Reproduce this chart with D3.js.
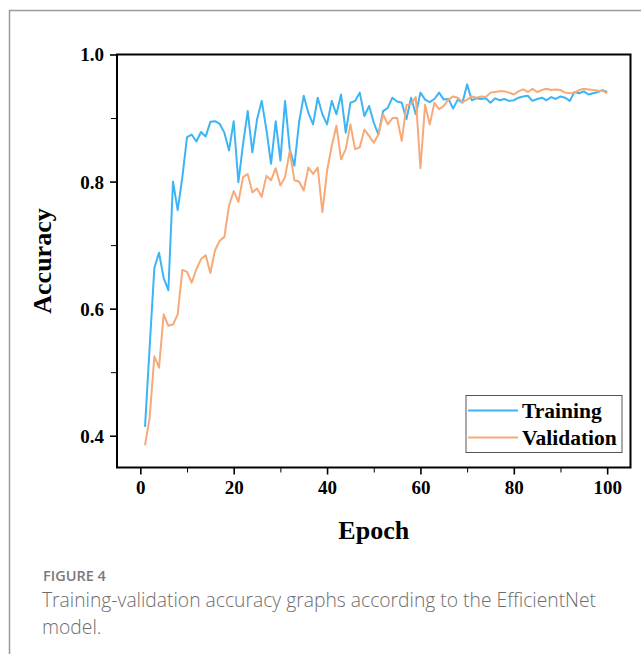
<!DOCTYPE html>
<html>
<head>
<meta charset="utf-8">
<script src="https://cdn.jsdelivr.net/npm/d3@7"></script>
<style>
  body { margin: 0; background: #fff; }
  svg { display: block; }
</style>
</head>
<body>
<script>
// accuracy per epoch
var epochs = d3.range(1, 101);
var training = [
  0.414, 0.540, 0.664, 0.688, 0.648, 0.629, 0.800, 0.755, 0.807, 0.870,
  0.874, 0.863, 0.878, 0.871, 0.894, 0.895, 0.891, 0.877, 0.849, 0.895,
  0.799, 0.859, 0.911, 0.846, 0.898, 0.927, 0.882, 0.828, 0.895, 0.833,
  0.927, 0.851, 0.825, 0.893, 0.935, 0.908, 0.890, 0.932, 0.906, 0.890,
  0.927, 0.906, 0.937, 0.877, 0.924, 0.927, 0.940, 0.903, 0.919, 0.893,
  0.874, 0.911, 0.916, 0.932, 0.926, 0.924, 0.898, 0.932, 0.906, 0.940,
  0.929, 0.925, 0.930, 0.940, 0.929, 0.930, 0.915, 0.929, 0.924, 0.953,
  0.928, 0.931, 0.930, 0.931, 0.924, 0.931, 0.928, 0.930, 0.927, 0.928,
  0.932, 0.934, 0.935, 0.927, 0.930, 0.932, 0.928, 0.933, 0.930, 0.934,
  0.932, 0.927, 0.941, 0.939, 0.942, 0.937, 0.939, 0.941, 0.944, 0.941
];
var validation = [
  0.385, 0.429, 0.525, 0.507, 0.591, 0.573, 0.575, 0.591, 0.661, 0.658,
  0.641, 0.662, 0.678, 0.684, 0.656, 0.692, 0.707, 0.713, 0.762, 0.785,
  0.768, 0.807, 0.812, 0.783, 0.789, 0.776, 0.809, 0.802, 0.821, 0.794,
  0.807, 0.848, 0.802, 0.800, 0.786, 0.822, 0.812, 0.822, 0.752, 0.817,
  0.856, 0.888, 0.835, 0.851, 0.890, 0.851, 0.854, 0.882, 0.872, 0.861,
  0.874, 0.906, 0.890, 0.900, 0.900, 0.864, 0.920, 0.922, 0.933, 0.821,
  0.921, 0.890, 0.924, 0.914, 0.919, 0.929, 0.934, 0.932, 0.925, 0.929,
  0.934, 0.932, 0.934, 0.933, 0.940, 0.941, 0.942, 0.942, 0.940, 0.937,
  0.942, 0.945, 0.941, 0.946, 0.941, 0.944, 0.946, 0.944, 0.945, 0.944,
  0.940, 0.939, 0.940, 0.944, 0.946, 0.945, 0.944, 0.943, 0.943, 0.939
];
var xMajor = [0, 20, 40, 60, 80, 100];
var xMinor = [10, 30, 50, 70, 90];
var yMajor = [0.4, 0.6, 0.8, 1.0];
var yMinor = [0.5, 0.7, 0.9];
var seriesNames = ["Training", "Validation"];
var seriesColors = ["#3db4f4", "#f7aa78"];

var svgWidth = 641, svgHeight = 654;
var margin = { top: 54.5, right: 10.5, bottom: 186.5, left: 117 };
var chartWidth = svgWidth - margin.left - margin.right;
var chartHeight = svgHeight - margin.top - margin.bottom;

var svg = d3.select("body").append("svg")
    .attr("width", svgWidth)
    .attr("height", svgHeight);

// page frame (top and left rule)
svg.append("path")
    .attr("d", "M9.5,654V10.5H641")
    .attr("fill", "none")
    .attr("stroke", "#9a9a9a")
    .attr("stroke-width", 1.5);

var chartGroup = svg.append("g")
    .attr("transform", `translate(${margin.left}, ${margin.top})`);

var xScale = d3.scaleLinear().domain([-5, 105]).range([0, chartWidth]);
var yScale = d3.scaleLinear().domain([0.35, 1.0]).range([chartHeight, 0]);

var tickFont = "'Liberation Serif', 'Times New Roman', serif";

// minor ticks
chartGroup.append("g")
    .attr("transform", `translate(0, ${chartHeight})`)
    .call(d3.axisBottom(xScale).tickValues(xMinor).tickSize(5).tickSizeOuter(0).tickFormat(""))
    .call(g => g.select(".domain").remove());
chartGroup.append("g")
    .call(d3.axisLeft(yScale).tickValues(yMinor).tickSize(6).tickSizeOuter(0).tickFormat(""))
    .call(g => g.select(".domain").remove());

// major ticks with labels
var xAxisG = chartGroup.append("g")
    .attr("transform", `translate(0, ${chartHeight})`)
    .call(d3.axisBottom(xScale).tickValues(xMajor).tickSize(7).tickSizeOuter(0).tickPadding(6).tickFormat(d3.format("d")));
var yAxisG = chartGroup.append("g")
    .call(d3.axisLeft(yScale).tickValues(yMajor).tickSize(7).tickSizeOuter(0).tickPadding(6).tickFormat(d3.format(".1f")));

[xAxisG, yAxisG].forEach(function(g) {
  g.selectAll("text")
      .attr("font-family", tickFont)
      .attr("font-weight", "bold")
      .attr("font-size", 19)
      .attr("fill", "#000");
  g.selectAll(".tick line").attr("stroke-width", 1.6);
  g.select(".domain").remove();
});
yAxisG.selectAll("text").attr("dy", "0.34em");

// plot frame
chartGroup.append("rect")
    .attr("width", chartWidth)
    .attr("height", chartHeight)
    .attr("fill", "none")
    .attr("stroke", "#000")
    .attr("stroke-width", 2);

// lines
var lineGen = d3.line()
    .x((d, i) => xScale(epochs[i]))
    .y(d => yScale(d));

[training, validation].forEach(function(series, k) {
  chartGroup.append("path")
      .datum(series)
      .attr("fill", "none")
      .attr("stroke", seriesColors[k])
      .attr("stroke-width", 2)
      .attr("stroke-linejoin", "round")
      .attr("d", lineGen);
});

// legend
var legend = svg.append("g").attr("transform", "translate(466, 395.5)");
legend.append("rect")
    .attr("width", 156)
    .attr("height", 57)
    .attr("fill", "#fff")
    .attr("stroke", "#555")
    .attr("stroke-width", 1);
seriesNames.forEach(function(name, k) {
  var y = 15 + k * 27;
  legend.append("line")
      .attr("x1", 2).attr("x2", 52)
      .attr("y1", y).attr("y2", y)
      .attr("stroke", seriesColors[k])
      .attr("stroke-width", 2);
  legend.append("text")
      .attr("x", 56)
      .attr("y", y + 7)
      .attr("font-family", tickFont)
      .attr("font-weight", "bold")
      .attr("font-size", 21.5)
      .text(name);
});

// axis titles
svg.append("text")
    .attr("x", margin.left + xScale(50))
    .attr("y", 539)
    .attr("text-anchor", "middle")
    .attr("font-family", tickFont)
    .attr("font-weight", "bold")
    .attr("font-size", 26)
    .text("Epoch");

svg.append("text")
    .attr("transform", `translate(51, ${margin.top + yScale(0.675)}) rotate(-90)`)
    .attr("text-anchor", "middle")
    .attr("font-family", tickFont)
    .attr("font-weight", "bold")
    .attr("font-size", 26)
    .text("Accuracy");

// caption
svg.append("text")
    .attr("x", 43)
    .attr("y", 581)
    .attr("font-family", "'Open Sans', 'Noto Sans', sans-serif")
    .attr("font-weight", 600)
    .attr("font-size", 14.5)
    .attr("fill", "#7a7a7a")
    .text("FIGURE 4");

var captionLines = ["Training-validation accuracy graphs according to the EfficientNet", "model."];
captionLines.forEach(function(line, i) {
  svg.append("text")
      .attr("x", 42)
      .attr("y", 607 + i * 27)
      .attr("font-family", "'Open Sans', 'Noto Sans', sans-serif")
      .attr("font-weight", 300)
      .attr("font-size", 19.3)
      .attr("fill", "#6e6e6e")
      .text(line);
});
</script>
</body>
</html>
